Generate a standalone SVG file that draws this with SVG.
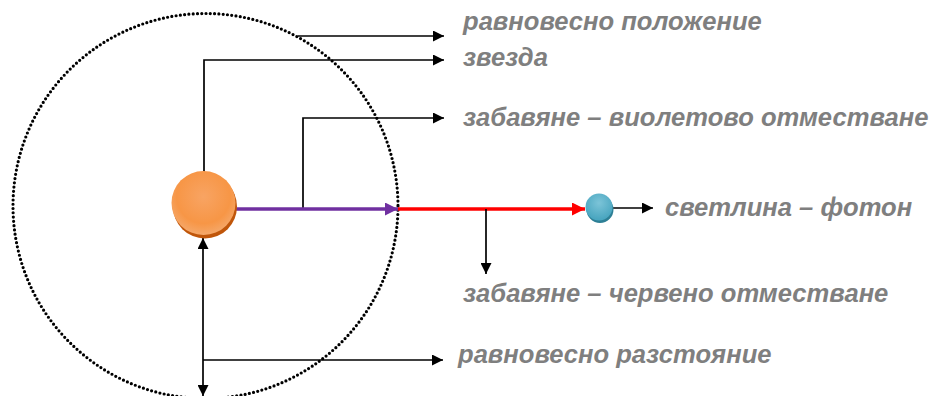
<svg xmlns="http://www.w3.org/2000/svg" width="934" height="396" viewBox="0 0 934 396">
<style>
.lbl{font-family:"Liberation Sans",Arial,sans-serif;font-weight:bold;font-style:italic;font-size:25.6px;fill:#7f7f7f}
.ln{stroke:#000;stroke-width:1.7;fill:none}
</style>
<defs>
<marker id="ah" viewBox="0 0 10 10" refX="10" refY="5" markerWidth="12" markerHeight="11" markerUnits="userSpaceOnUse" orient="auto"><path d="M0,0 L10,5 L0,10 z" fill="#000"/></marker>
<marker id="ahp" viewBox="0 0 10 10" refX="10" refY="5" markerWidth="13" markerHeight="13" markerUnits="userSpaceOnUse" orient="auto"><path d="M0,0 L10,5 L0,10 z" fill="#7030a0"/></marker>
<marker id="ahr" viewBox="0 0 10 10" refX="10" refY="5" markerWidth="13" markerHeight="13" markerUnits="userSpaceOnUse" orient="auto"><path d="M0,0 L10,5 L0,10 z" fill="#ff0000"/></marker>
<radialGradient id="gStar" cx="50%" cy="40%" r="60%"><stop offset="0" stop-color="#f8a463"/><stop offset="0.7" stop-color="#f79646"/><stop offset="1" stop-color="#f5a86a"/></radialGradient>
<radialGradient id="gPh" cx="50%" cy="35%" r="60%"><stop offset="0" stop-color="#7cc4d8"/><stop offset="1" stop-color="#4aa6c0"/></radialGradient>
</defs>
<g id="orbit"><circle cx="205.5" cy="206" r="192.5" fill="none" stroke="#000" stroke-width="3.2" stroke-dasharray="0 4.3" stroke-linecap="round"/></g>
<g id="connectors">
<path class="ln" d="M298,36 H444" marker-end="url(#ah)"/>
<path class="ln" d="M204,172 V60 H444" marker-end="url(#ah)"/>
<path class="ln" d="M303,209 V118 H444" marker-end="url(#ah)"/>
<path d="M235,209 H398" stroke="#7030a0" stroke-width="3.5" fill="none" marker-end="url(#ahp)"/>
<path d="M398,209 H585" stroke="#ff0000" stroke-width="3.5" fill="none" marker-end="url(#ahr)"/>
<path class="ln" d="M486,209 V274" marker-end="url(#ah)"/>
<path class="ln" d="M612,208 H653" marker-end="url(#ah)"/>
<path class="ln" d="M203,360 H443" marker-end="url(#ah)"/>
<path class="ln" d="M203,300 V238" marker-end="url(#ah)"/>
<path class="ln" d="M203,300 V396" marker-end="url(#ah)"/>
</g>
<g id="star">
<circle cx="205" cy="206.5" r="32" fill="#c0560a"/>
<circle cx="203.5" cy="203" r="32" fill="url(#gStar)"/>
</g>
<g id="photon">
<circle cx="600" cy="209.5" r="13.5" fill="#2d7f95"/>
<circle cx="599" cy="207" r="13.5" fill="url(#gPh)"/>
</g>
<g id="labels">
<text class="lbl" x="463" y="30">равновесно положение</text>
<text class="lbl" x="463" y="66">звезда</text>
<text class="lbl" x="463" y="126">забавяне – виолетово отместване</text>
<text class="lbl" x="665" y="216">светлина – фотон</text>
<text class="lbl" x="463" y="302">забавяне – червено отместване</text>
<text class="lbl" x="458" y="363">равновесно разстояние</text>
</g>
</svg>
